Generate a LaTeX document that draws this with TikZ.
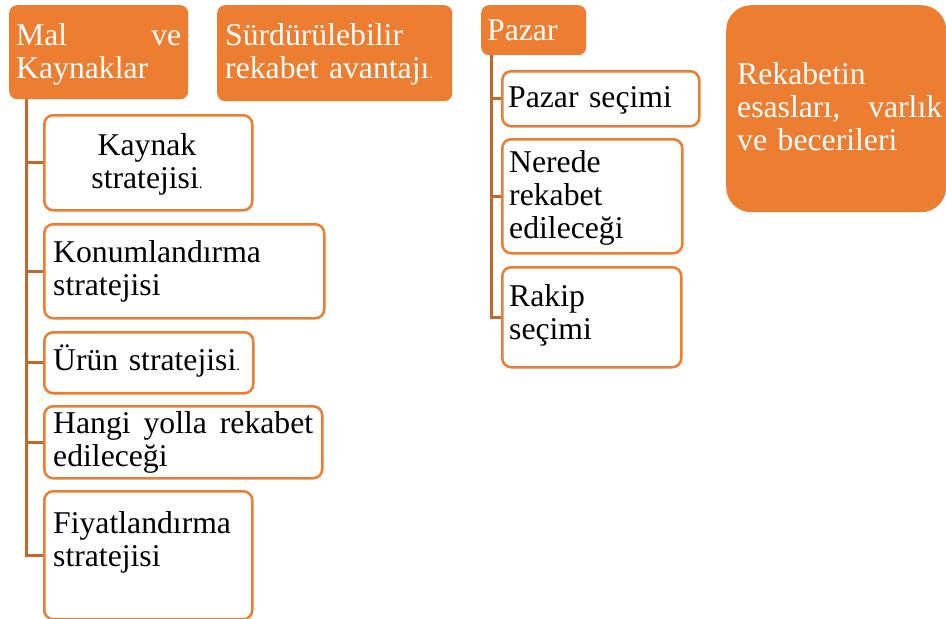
\documentclass[tikz,border=0pt]{standalone}
\usepackage{fontspec}
\setmainfont{Liberation Serif}
\definecolor{accent}{HTML}{ED7D31}
\definecolor{linkline}{HTML}{C5672B}
\newcommand{\smalldot}{{\fontsize{15}{15}\selectfont.}}
\begin{document}
\begin{tikzpicture}[x=1pt,y=-1pt,
  fillbox/.style={rectangle,rounded corners=8pt,fill=accent,draw=none,anchor=north west,inner sep=0pt},
  linebox/.style={rectangle,rounded corners=9pt,fill=white,draw=accent,line width=2.5pt,anchor=north west,inner sep=0pt},
  txt/.style={inner sep=0pt,anchor=base west,align=left,font=\fontsize{31.7}{33}\selectfont},
  wtxt/.style={txt,text=white},
  conn/.style={draw=linkline,line width=3pt}]
\useasboundingbox (0,0) rectangle (946,619);

% header boxes
\node[fillbox,minimum width=179pt,minimum height=94pt] (mal) at (9,5) {};
\node[fillbox,minimum width=235pt,minimum height=96pt] (surd) at (217,5) {};
\node[fillbox,minimum width=105pt,minimum height=50pt] (pazar) at (481,5) {};
\node[fillbox,rounded corners=25pt,minimum width=220pt,minimum height=207pt] (rekab) at (726,5) {};

% child boxes under "Mal ve Kaynaklar"
\node[linebox,minimum width=208pt,minimum height=95pt] (kaynak) at (43,114) {};
\node[linebox,minimum width=280pt,minimum height=94pt] (konum) at (43,223) {};
\node[linebox,minimum width=209pt,minimum height=61pt] (urun) at (43,331) {};
\node[linebox,minimum width=278pt,minimum height=72pt] (hangi) at (43,405) {};
\node[linebox,minimum width=208pt,minimum height=128pt] (fiyat) at (43,490) {};

% child boxes under "Pazar"
\node[linebox,minimum width=197pt,minimum height=55pt] (psec) at (501,70) {};
\node[linebox,minimum width=180pt,minimum height=114pt] (nerede) at (501,138) {};
\node[linebox,minimum width=179pt,minimum height=100pt] (rakip) at (501,266) {};

% hierarchy connectors
\foreach \c in {kaynak,konum,urun,hangi,fiyat}
  \draw[conn] ([xshift=17pt]mal.south west) |- (\c.west);
\foreach \c in {psec,nerede,rakip}
  \draw[conn] ([xshift=10pt]pazar.south west) |- (\c.west);

% texts
\node[wtxt,text width=165pt] (tmal) at (16,45) {Mal\hfill ve\\Kaynaklar};
\node[wtxt,text width=225pt] (tsurd) at (225,45) {Sürdürülebilir\\rekabet avantajı\smalldot};
\node[wtxt,text width=95pt] (tpazar) at (487,40) {Pazar};
\node[wtxt,text width=205pt] (trekab) at (737,84) {Rekabetin\\esasları,\hfill varlık\\ve becerileri};

\node[txt,anchor=base,align=center,text width=200pt] (tkaynak) at (147,155) {Kaynak\\stratejisi\smalldot};
\node[txt,text width=265pt] (tkonum) at (53,262) {Konumlandırma\\stratejisi};
\node[txt,text width=195pt] (turun) at (53,370) {Ürün stratejisi\smalldot};
\node[txt,text width=260pt] (thangi) at (53,433) {Hangi\hfill yolla\hfill rekabet\\edileceği};
\node[txt,text width=195pt] (tfiyat) at (53,533) {Fiyatlandırma\\stratejisi};

\node[txt,text width=185pt] (tpsec) at (508,107) {Pazar seçimi};
\node[txt,text width=165pt] (tnerede) at (509,172) {Nerede\\rekabet\\edileceği};
\node[txt,text width=165pt] (trakip) at (509,306) {Rakip\\seçimi};
\end{tikzpicture}
\end{document}
